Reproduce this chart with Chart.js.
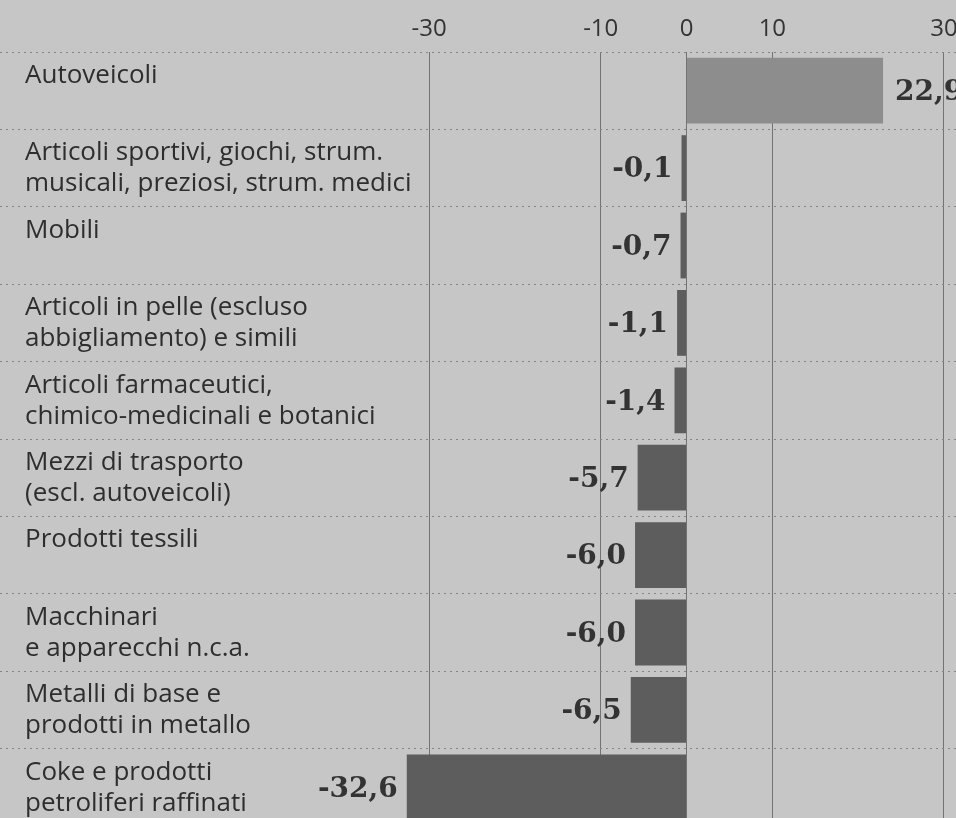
<!DOCTYPE html>
<html>
<head>
<meta charset="utf-8">
<script src="https://cdn.jsdelivr.net/npm/chart.js@4"></script>
<style>
html, body { margin: 0; padding: 0; background: #c6c6c6; overflow: hidden; }
#wrap { position: absolute; left: 0; top: 0; width: 956px; height: 826px; }
</style>
</head>
<body>
<div id="wrap"><canvas id="grafico"></canvas></div>
<script>
// settori (una riga per etichetta su piu' righe)
const categorie = [
  ['Autoveicoli'],
  ['Articoli sportivi, giochi, strum.', 'musicali, preziosi, strum. medici'],
  ['Mobili'],
  ['Articoli in pelle (escluso', 'abbigliamento) e simili'],
  ['Articoli farmaceutici,', 'chimico-medicinali e botanici'],
  ['Mezzi di trasporto', '(escl. autoveicoli)'],
  ['Prodotti tessili'],
  ['Macchinari', 'e apparecchi n.c.a.'],
  ['Metalli di base e', 'prodotti in metallo'],
  ['Coke e prodotti', 'petroliferi raffinati']
];
const valori = [22.9, -0.1, -0.7, -1.1, -1.4, -5.7, -6.0, -6.0, -6.5, -32.6];
const tickValori = [-30, -10, 0, 10, 30];

const xMin = -80, xMax = 31.4;

const sfondo = {
  id: 'sfondo',
  beforeDraw(chart) {
    const c = chart.ctx;
    c.save();
    c.fillStyle = '#c6c6c6';
    c.fillRect(0, 0, chart.width, chart.height);
    c.restore();
  }
};

// nomi dei settori e valori accanto alle barre
const etichette = {
  id: 'etichette',
  afterDatasetsDraw(chart) {
    const ctx = chart.ctx;
    const y = chart.scales.y;
    const rowH = y.getPixelForValue(1) - y.getPixelForValue(0);
    const meta = chart.getDatasetMeta(0);
    ctx.save();
    ctx.fillStyle = '#2e2e2e';
    ctx.font = '26px "Open Sans"';
    ctx.textAlign = 'left';
    ctx.textBaseline = 'alphabetic';
    categorie.forEach((righe, i) => {
      const top = y.getPixelForValue(i) - rowH / 2;
      righe.forEach((t, k) => ctx.fillText(t, 25, top + 31 + k * 31));
    });

    ctx.font = 'bold 28px "DejaVu Serif"';
    ctx.fillStyle = '#333';
    ctx.textBaseline = 'middle';
    meta.data.forEach((bar, i) => {
      const v = valori[i];
      const txt = v.toFixed(1).replace('.', ',');
      if (v >= 0) {
        ctx.textAlign = 'left';
        ctx.fillText(txt, Math.max(bar.x, bar.base) + 12, bar.y + 2);
      } else {
        ctx.textAlign = 'right';
        ctx.fillText(txt, Math.min(bar.x, bar.base) - 9, bar.y + 2);
      }
    });
    ctx.restore();
  }
};

new Chart(document.getElementById('grafico'), {
  type: 'bar',
  data: {
    labels: categorie.map(r => r.join(' ')),
    datasets: [{
      data: valori,
      backgroundColor: valori.map(v => v >= 0 ? '#8d8d8d' : '#5d5d5d'),
      barPercentage: 0.85,
      categoryPercentage: 1,
      minBarLength: 5
    }]
  },
  options: {
    indexAxis: 'y',
    responsive: true,
    maintainAspectRatio: false,
    devicePixelRatio: 1,
    animation: false,
    layout: { padding: 0 },
    plugins: { legend: { display: false }, tooltip: { enabled: false } },
    scales: {
      x: {
        type: 'linear',
        position: 'top',
        min: xMin,
        max: xMax,
        afterBuildTicks(s) { s.ticks = tickValori.map(v => ({ value: v })); },
        afterFit(s) { s.height = 52; s.paddingLeft = 0; s.paddingRight = 0; },
        grid: { color: 'rgba(80,80,80,0.7)', lineWidth: 1, drawTicks: false },
        border: { display: false },
        ticks: {
          autoSkip: false,
          maxRotation: 0,
          padding: 8,
          color: '#333',
          font: { family: '"Open Sans"', size: 24 },
          callback: v => String(v)
        }
      },
      y: {
        type: 'category',
        offset: true,
        afterFit(s) { s.width = 0; },
        grid: { offset: true, color: '#858585', lineWidth: 1, drawTicks: false },
        border: { display: false, dash: [2, 4] },
        ticks: { display: false }
      }
    }
  },
  plugins: [sfondo, etichette]
});
</script>
</body>
</html>
